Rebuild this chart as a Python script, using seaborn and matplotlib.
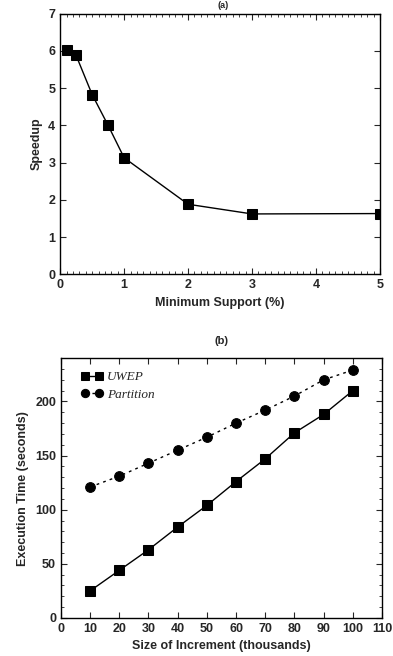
import pandas as pd
import seaborn as sns
import matplotlib.pyplot as plt
from matplotlib.ticker import MultipleLocator

# (a) speedup vs minimum support
support = [0.1, 0.25, 0.5, 0.75, 1.0, 2.0, 3.0, 5.0]
speedup = [6.02, 5.88, 4.83, 4.0, 3.13, 1.88, 1.62, 1.63]

# (b) execution time vs size of increment
increment = [10, 20, 30, 40, 50, 60, 70, 80, 90, 100]
uwep_time = [25, 44, 63, 84, 104, 126, 147, 171, 188, 210]
partition_time = [121, 131, 143, 155, 167, 180, 192, 205, 220, 229]

sns.set_style("ticks")
plt.rcParams['font.family'] = ['Liberation Sans', 'DejaVu Sans']
plt.rcParams['xtick.direction'] = 'in'
plt.rcParams['ytick.direction'] = 'in'
plt.rcParams['axes.edgecolor'] = 'black'
plt.rcParams['axes.linewidth'] = 1.0

fig = plt.figure(figsize=(3.93, 6.56), dpi=100)
ax1 = fig.add_axes([0.153, 0.582, 0.814, 0.397])
ax2 = fig.add_axes([0.155, 0.058, 0.817, 0.396])

df_a = pd.DataFrame({'support': support, 'speedup': speedup})
sns.lineplot(data=df_a, x='support', y='speedup', ax=ax1, color='black',
             marker='s', markersize=7, markeredgecolor='black', linewidth=1.0)
ax1.set_xlim(0, 5)
ax1.set_ylim(0, 7)
ax1.xaxis.set_major_locator(MultipleLocator(1))
ax1.xaxis.set_minor_locator(MultipleLocator(0.1))
ax1.yaxis.set_major_locator(MultipleLocator(1))
ax1.set_xlabel('Minimum Support (%)', fontsize=9, fontweight='bold')
ax1.set_ylabel('Speedup', fontsize=9, fontweight='bold')

df_b = pd.DataFrame({
    'size': increment * 2,
    'time': uwep_time + partition_time,
    'method': ['UWEP'] * len(increment) + ['Partition'] * len(increment),
})
sns.lineplot(data=df_b, x='size', y='time', hue='method', style='method',
             markers={'UWEP': 's', 'Partition': 'o'},
             dashes={'UWEP': '', 'Partition': (2, 3)},
             palette={'UWEP': 'black', 'Partition': 'black'},
             markersize=7, markeredgecolor='black', linewidth=1.0, ax=ax2)
ax2.set_xlim(0, 110)
ax2.set_ylim(0, 240)
ax2.xaxis.set_major_locator(MultipleLocator(10))
ax2.yaxis.set_major_locator(MultipleLocator(50))
ax2.yaxis.set_minor_locator(MultipleLocator(10))
ax2.set_xlabel('Size of Increment (thousands)', fontsize=9, fontweight='bold')
ax2.set_ylabel('Execution Time (seconds)', fontsize=9, fontweight='bold')
ax2.set_title('(b)', fontsize=8, fontweight='bold', pad=10)
leg = ax2.legend(loc='upper left', frameon=False, handlelength=1.7,
                 numpoints=2, handletextpad=0.3, markerscale=0.85,
                 bbox_to_anchor=(0.045, 0.97), borderaxespad=0.0, labelspacing=0.4,
                 prop={'family': 'Liberation Serif', 'style': 'italic', 'size': 9.5})

for ax in (ax1, ax2):
    ax.tick_params(which='both', top=True, right=True, labelsize=9)
    ax.tick_params(which='major', length=4)
    ax.tick_params(which='minor', length=2)
    for lab in ax.get_xticklabels() + ax.get_yticklabels():
        lab.set_fontweight('bold')

# panel (a) label, squeezed into the strip above the top panel
fig.text(0.567, 0.999, '(a)', ha='center', va='top', fontsize=6.5, fontweight='bold')

fig.savefig('out.png', dpi=100)
